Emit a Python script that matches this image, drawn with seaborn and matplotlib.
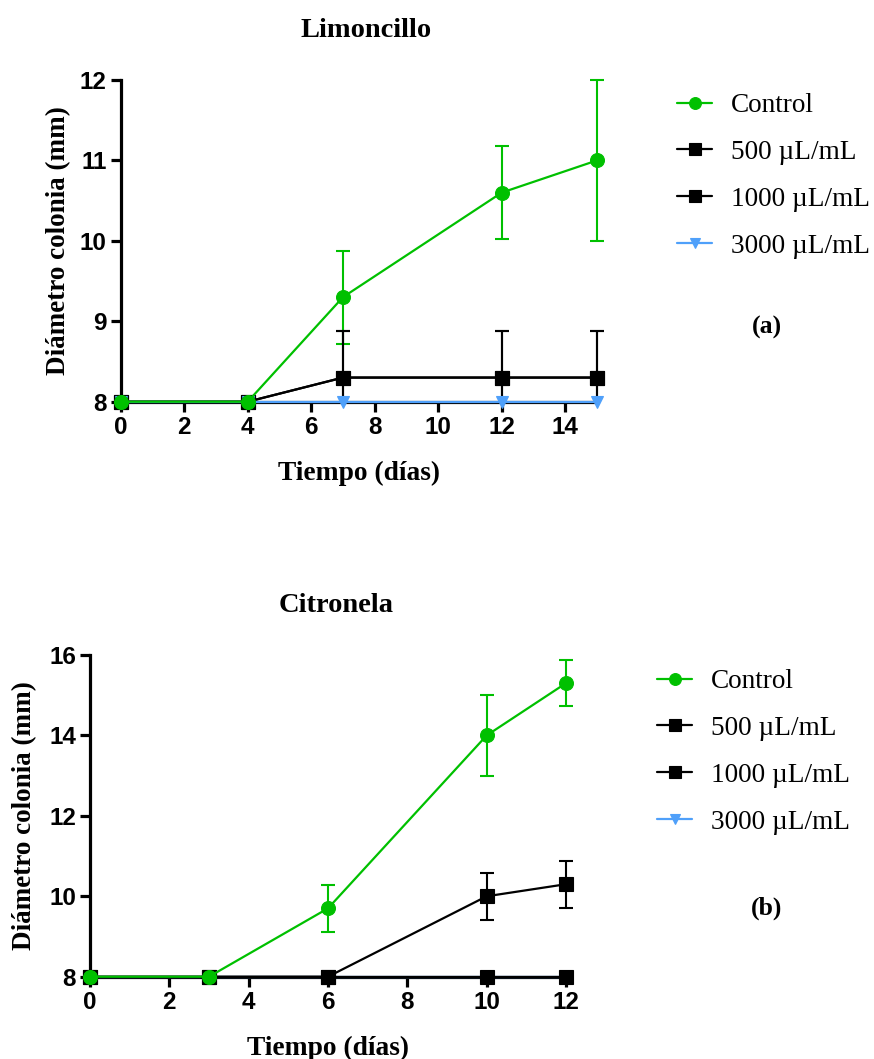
import matplotlib
matplotlib.use("Agg")
import matplotlib.pyplot as plt
from matplotlib.transforms import Bbox, TransformedBbox
import seaborn as sns
import pandas as pd

# ---------------- data ----------------
series_names = ["Control", "500 \u00b5L/mL", "1000 \u00b5L/mL", "3000 \u00b5L/mL"]

lim_days = [0, 4, 7, 12, 15]
lim_control = [8.0, 8.0, 9.3, 10.6, 11.0]
lim_control_err = [0, 0, 0.58, 0.58, 1.0]
lim_500 = [8.0, 8.0, 8.3, 8.3, 8.3]
lim_500_err = [0, 0, 0.58, 0.58, 0.58]
lim_1000 = [8.0, 8.0, 8.3, 8.3, 8.3]
lim_1000_err = [0, 0, 0.58, 0.58, 0.58]
lim_3000 = [8.0, 8.0, 8.0, 8.0, 8.0]
lim_3000_err = [0, 0, 0, 0, 0]

cit_days = [0, 3, 6, 10, 12]
cit_control = [8.0, 8.0, 9.7, 14.0, 15.3]
cit_control_err = [0, 0, 0.58, 1.0, 0.58]
cit_500 = [8.0, 8.0, 8.0, 10.0, 10.3]
cit_500_err = [0, 0, 0, 0.58, 0.58]
cit_1000 = [8.0, 8.0, 8.0, 8.0, 8.0]
cit_1000_err = [0, 0, 0, 0, 0]
cit_3000 = [8.0, 8.0, 8.0, 8.0, 8.0]
cit_3000_err = [0, 0, 0, 0, 0]

colors = ["#00C000", "#000000", "#000000", "#4FA0FA"]
markers = ["o", "s", "s", "v"]
msizes = [10, 9.5, 9.5, 8.5]

sns.set_style("ticks")
plt.rcParams["font.family"] = ["Liberation Sans", "DejaVu Sans"]
for k in ["text.color", "axes.labelcolor", "xtick.color", "ytick.color", "axes.edgecolor"]:
    plt.rcParams[k] = "black"

fig = plt.figure(figsize=(8.74, 10.59), dpi=100)
W, H = 874, 1059


def add_axes(x0, x1, ytop, ybot):
    return fig.add_axes([x0 / W, 1 - ybot / H, (x1 - x0) / W, (ybot - ytop) / H])


serif = ["Liberation Serif", "DejaVu Serif"]


def panel(ax, days, vals, errs, line_order, title, xlim, xticks, ylim, yticks,
          tag, ylab_x, legend_anchor, tag_xy, title_x):
    clipbox = TransformedBbox(Bbox([[-0.1, 0.0], [1.1, 1.2]]), ax.transAxes)
    # error bars (clipped at the x axis only)
    for i in [0, 1, 2, 3]:
        if any(e > 0 for e in errs[i]):
            cont = ax.errorbar(days, vals[i], yerr=errs[i], fmt="none", ecolor=colors[i],
                               elinewidth=1.5, capsize=5, capthick=1.5, zorder=3)
            for art in cont.get_children():
                art.set_clip_box(clipbox)
    handles = {}
    for i in line_order:
        df = pd.DataFrame({"d": days, "v": vals[i]})
        sns.lineplot(data=df, x="d", y="v", ax=ax, color=colors[i], marker=markers[i],
                     markersize=msizes[i], markeredgecolor=colors[i], markeredgewidth=0.8,
                     linewidth=1.6, clip_on=False, zorder=4 + (1 if i == 0 else 0),
                     label=series_names[i], legend=False)
        handles[i] = ax.lines[-1]
    ax.set_xlim(*xlim)
    ax.set_ylim(*ylim)
    ax.set_xticks(xticks)
    ax.set_yticks(yticks)
    sns.despine(ax=ax)
    for s in ["left", "bottom"]:
        ax.spines[s].set_linewidth(2.3)
        ax.spines[s].set_color("black")
    ax.tick_params(width=2.3, length=7, labelsize=17.5, color="black", pad=3)
    for lab in ax.get_xticklabels() + ax.get_yticklabels():
        lab.set_fontweight("bold")
    ax.set_xlabel("Tiempo (d\u00edas)", fontfamily=serif, fontweight="bold", fontsize=19.8,
                  labelpad=16)
    ax.set_ylabel("Di\u00e1metro colonia (mm)", fontfamily=serif, fontweight="bold",
                  fontsize=19.5)
    ax.yaxis.set_label_coords(ylab_x, 0.5)
    ax.set_title(title, fontfamily=serif, fontweight="bold", fontsize=20.5, pad=31,
                 x=title_x)
    ax.legend([handles[i] for i in [0, 1, 2, 3]], series_names, loc="upper left",
              bbox_to_anchor=legend_anchor, bbox_transform=fig.transFigure,
              frameon=False, prop={"family": serif, "size": 19.6},
              handlelength=1.3, handletextpad=0.68, labelspacing=0.8,
              markerscale=0.85, borderaxespad=0, borderpad=0)
    fig.text(tag_xy[0] / W, 1 - tag_xy[1] / H, tag, fontfamily=serif, fontweight="bold",
             fontsize=18.5, ha="center", va="center")


ax1 = add_axes(120.7, 597, 80, 401.7)
panel(ax1, lim_days,
      [lim_control, lim_500, lim_1000, lim_3000],
      [lim_control_err, lim_500_err, lim_1000_err, lim_3000_err],
      [1, 2, 3, 0], "Limoncillo", (0, 15), [0, 2, 4, 6, 8, 10, 12, 14],
      (8, 12), [8, 9, 10, 11, 12], "(a)", -0.105, (677 / W, 1 - 93 / H), (767, 327),
      0.515)

ax2 = add_axes(90, 566, 655, 976.7)
panel(ax2, cit_days,
      [cit_control, cit_500, cit_1000, cit_3000],
      [cit_control_err, cit_500_err, cit_1000_err, cit_3000_err],
      [3, 2, 1, 0], "Citronela", (0, 12), [0, 2, 4, 6, 8, 10, 12],
      (8, 16), [8, 10, 12, 14, 16], "(b)", -0.112, (657 / W, 1 - 669 / H), (767, 908),
      0.518)

fig.savefig("out.png", dpi=100)
